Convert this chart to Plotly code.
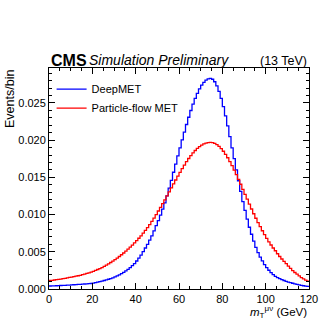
import numpy as np
import plotly.graph_objects as go

# Bin edges (GeV): 120 bins of 1 GeV from 0 to 120
bin_edges = list(range(0, 121))

# DeepMET normalized histogram (events/bin), bins 0..119
deepmet = [
    0.00040, 0.00042, 0.00043, 0.00044, 0.00046, 0.00047, 0.00049, 0.00050, 0.00052, 0.00053,
    0.00055, 0.00057, 0.00059, 0.00061, 0.00063, 0.00065, 0.00067, 0.00069, 0.00072, 0.00074,
    0.00079, 0.00085, 0.00092, 0.00099, 0.00106, 0.00114, 0.00122, 0.00131, 0.00140, 0.00150,
    0.00162, 0.00176, 0.00190, 0.00206, 0.00223, 0.00243, 0.00265, 0.00288, 0.00314, 0.00342,
    0.00376, 0.00414, 0.00455, 0.00501, 0.00551, 0.00601, 0.00656, 0.00715, 0.00780, 0.00851,
    0.00920, 0.00993, 0.01073, 0.01158, 0.01251, 0.01355, 0.01461, 0.01569, 0.01679, 0.01788,
    0.01897, 0.02004, 0.02109, 0.02211, 0.02308, 0.02399, 0.02484, 0.02561, 0.02629, 0.02689,
    0.02739, 0.02778, 0.02807, 0.02824, 0.02830, 0.02819, 0.02785, 0.02730, 0.02655, 0.02561,
    0.02451, 0.02326, 0.02191, 0.02047, 0.01897, 0.01751, 0.01602, 0.01455, 0.01312, 0.01175,
    0.01057, 0.00939, 0.00830, 0.00736, 0.00644, 0.00559, 0.00490, 0.00428, 0.00378, 0.00328,
    0.00288, 0.00252, 0.00221, 0.00194, 0.00170, 0.00154, 0.00139, 0.00126, 0.00114, 0.00103,
    0.00093, 0.00085, 0.00077, 0.00069, 0.00063, 0.00056, 0.00050, 0.00044, 0.00039, 0.00035,
]

# Particle-flow MET normalized histogram (events/bin), bins 0..119
pfmet = [
    0.00114, 0.00117, 0.00121, 0.00125, 0.00129, 0.00134, 0.00139, 0.00144, 0.00149, 0.00155,
    0.00160, 0.00166, 0.00172, 0.00178, 0.00184, 0.00192, 0.00200, 0.00209, 0.00218, 0.00227,
    0.00238, 0.00250, 0.00262, 0.00275, 0.00288, 0.00304, 0.00320, 0.00337, 0.00356, 0.00375,
    0.00395, 0.00415, 0.00437, 0.00460, 0.00484, 0.00509, 0.00535, 0.00562, 0.00590, 0.00620,
    0.00650, 0.00682, 0.00715, 0.00750, 0.00787, 0.00825, 0.00866, 0.00908, 0.00952, 0.00999,
    0.01048, 0.01097, 0.01148, 0.01199, 0.01251, 0.01305, 0.01359, 0.01412, 0.01465, 0.01517,
    0.01568, 0.01619, 0.01666, 0.01711, 0.01754, 0.01793, 0.01829, 0.01861, 0.01889, 0.01913,
    0.01934, 0.01949, 0.01961, 0.01968, 0.01970, 0.01967, 0.01956, 0.01940, 0.01916, 0.01887,
    0.01851, 0.01810, 0.01764, 0.01713, 0.01658, 0.01598, 0.01537, 0.01473, 0.01408, 0.01340,
    0.01272, 0.01207, 0.01140, 0.01075, 0.01011, 0.00951, 0.00893, 0.00837, 0.00783, 0.00730,
    0.00680, 0.00634, 0.00591, 0.00551, 0.00514, 0.00474, 0.00437, 0.00403, 0.00371, 0.00342,
    0.00307, 0.00276, 0.00248, 0.00222, 0.00200, 0.00176, 0.00154, 0.00136, 0.00119, 0.00105,
]

series_names = ["DeepMET", "Particle-flow MET"]
series_colors = ["#0000ff", "#ff0000"]

FONT = "Liberation Sans, Arial, Helvetica, sans-serif"

fig = go.Figure()
for name, vals, col in zip(series_names, [deepmet, pfmet], series_colors):
    fig.add_trace(go.Scatter(
        x=bin_edges,
        y=list(vals) + [vals[-1]],
        mode="lines",
        line=dict(color=col, width=1.3, shape="hv"),
        name=name,
    ))

axis_common = dict(
    showline=True, linecolor="black", linewidth=1, mirror="ticks",
    ticks="inside", ticklen=6, tickwidth=1, tickcolor="black",
    showgrid=False, zeroline=False,
    tickfont=dict(family=FONT, size=11, color="black"),
)

fig.update_xaxes(
    range=[0, 120], tick0=0, dtick=20,
    minor=dict(ticks="inside", ticklen=3, tickcolor="black", dtick=5, showgrid=False),
    **axis_common,
)
fig.update_yaxes(
    range=[0, 0.0297], tick0=0, dtick=0.005, tickformat=".3f",
    minor=dict(ticks="inside", ticklen=3, tickcolor="black", dtick=0.001, showgrid=False),
    **axis_common,
)

fig.update_layout(
    width=328, height=318,
    margin=dict(l=49, r=10, t=68, b=29),
    paper_bgcolor="white", plot_bgcolor="white",
    font=dict(family=FONT, color="black"),
    showlegend=True,
    legend=dict(
        x=0.01, y=0.97, xanchor="left", yanchor="top",
        bgcolor="rgba(0,0,0,0)", font=dict(family=FONT, size=11, color="black"),
        itemwidth=30, tracegroupgap=0,
    ),
    annotations=[
        dict(text="<b>CMS</b>", x=0, y=1.0, xref="paper", yref="paper",
             xanchor="left", yanchor="bottom", showarrow=False, yshift=-3,
             font=dict(family=FONT, size=16, color="black")),
        dict(text="<i>Simulation Preliminary</i>", x=0.148, y=1.0, xref="paper", yref="paper",
             xanchor="left", yanchor="bottom", showarrow=False, yshift=-2,
             font=dict(family=FONT, size=14, color="black")),
        dict(text="(13 TeV)", x=1.0, y=1.0, xref="paper", yref="paper",
             xanchor="right", yanchor="bottom", showarrow=False, yshift=-2,
             font=dict(family=FONT, size=12.5, color="black")),
        dict(text="Events/bin", x=0, y=1.0, xref="paper", yref="paper",
             xanchor="right", yanchor="top", textangle=-90, showarrow=False, xshift=-30,
             font=dict(family=FONT, size=12.5, color="black")),
        dict(text="<i>m</i><sub>T</sub><sup>μν</sup> (GeV)", x=1.0, y=0, xref="paper", yref="paper",
             xanchor="right", yanchor="top", showarrow=False, yshift=-12.5,
             font=dict(family=FONT, size=11.5, color="black")),
    ],
)

fig.write_html("out.html", config={"displayModeBar": False},
               post_script="document.body.style.margin='0px';")
